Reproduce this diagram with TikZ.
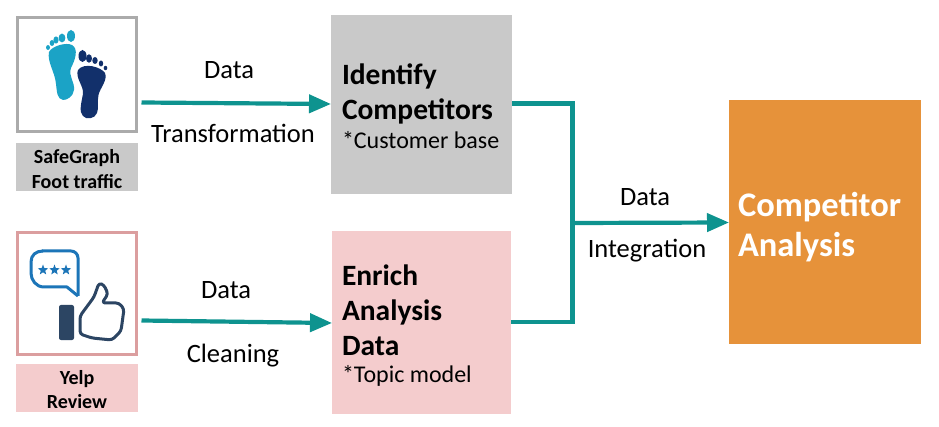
\documentclass[tikz,border=0pt]{standalone}
\usepackage{fontspec}
\setmainfont{Carlito}
\usetikzlibrary{arrows.meta,shapes.geometric}
\definecolor{teal1}{HTML}{0E938F}
\definecolor{grayfill}{HTML}{C9C9C9}
\definecolor{grayline}{HTML}{ABABAB}
\definecolor{pinkfill}{HTML}{F4CCCD}
\definecolor{pinkline}{HTML}{DB9E9F}
\definecolor{orange1}{HTML}{E6923A}
\definecolor{footlight}{HTML}{1BA3C6}
\definecolor{footdark}{HTML}{12306B}
\definecolor{bubble}{HTML}{1C75B8}
\definecolor{thumb}{HTML}{2C4563}
\tikzset{
  every node/.style={inner sep=0pt,outer sep=0pt},
  iconbox/.style={draw=#1,line width=3pt,fill=white,anchor=north west,minimum width=119pt,minimum height=114pt},
  captionbox/.style={fill=#1,anchor=north west,minimum width=122pt,minimum height=48pt},
  captiontext/.style={align=center,font=\fontsize{20}{24.5}\selectfont\bfseries},
  flow/.style={teal1,line width=4.2pt},
  flowarrow/.style={flow,-{Triangle[length=22pt,width=18pt]}},
  lbl/.style={font=\fontsize{26.5}{28}\selectfont},
  titletext/.style={anchor=west,align=left,font=\fontsize{29.5}{35}\selectfont\bfseries},
  notetext/.style={anchor=west,font=\fontsize{24}{26}\selectfont},
}
\begin{document}
\begin{tikzpicture}[x=1pt,y=-1pt]
\useasboundingbox (0,0) rectangle (939,427);
% boxes
\node[iconbox=grayline] (safe) at (17.5,17.5) {};
\node[captionbox=grayfill] (safecap) at (16,143) {};
\node[captiontext] (safeT) at (77,169) {SafeGraph\\Foot traffic};
\node[draw=pinkline,line width=3pt,fill=white,anchor=north west,minimum width=119pt,minimum height=121pt] (yelp) at (17.5,233) {};
\node[captionbox=pinkfill] (yelpcap) at (16,364) {};
\node[captiontext] (yelpT) at (77,389.5) {Yelp\\Review};
\node[fill=grayfill,anchor=north west,minimum width=181pt,minimum height=179pt] (identify) at (331,15) {};
\node[fill=pinkfill,anchor=north west,minimum width=179pt,minimum height=183pt] (enrich) at (332,231) {};
\node[fill=orange1,anchor=north west,minimum width=192pt,minimum height=244pt] (comp) at (729,100) {};
% box texts
\node[titletext] (identifyT) at (342,94) {Identify\\Competitors};
\node[notetext] (identifyN) at (342,140.5) {*Customer base};
\node[titletext] (enrichT) at (342,310) {Enrich\\Analysis\\Data};
\node[notetext] (enrichN) at (342,376) {*Topic model};
\node[anchor=west,align=left,text=white,font=\fontsize{34.5}{40}\selectfont\bfseries] (compT) at (738,227) {Competitor\\Analysis};
% edge labels
\node[lbl] (l1) at (229,70.5) {Data};
\node[lbl] (l2) at (233,133) {Transformation};
\node[lbl] (l3) at (226,290.5) {Data};
\node[lbl] (l4) at (233,356) {Cleaning};
\node[lbl] (l5) at (645,197.5) {Data};
\node[lbl] (l6) at (647,251) {Integration};
% connectors
\coordinate (j1) at (572.5,103.5);
\coordinate (j2) at (572.5,322);
\coordinate (j3) at (572.5,223);
\draw[flowarrow] ([xshift=5pt,yshift=-28pt]safe.east) -- (identify.west |- 0,104);
\draw[flowarrow] ([xshift=5pt,yshift=-27pt]yelp.east) -- (enrich.west |- 0,323);
\draw[flow,line cap=butt,line join=miter] (identify.east |- j1) -- (j1) -- (j2) -- (enrich.east |- j2);
\draw[flowarrow] (j3) -- (comp.west |- 0,222.5);
% foot icons
\fill[footlight] (49,52) .. controls (52,46) and (66,42) .. (72,45) .. controls (79,49) and (75,60) .. (71,68)
  .. controls (68,76) and (75,82) .. (74,90) .. controls (73,97) and (67,100) .. (63,100)
  .. controls (57,99) and (57,92) .. (56,84) .. controls (55,72) and (47,62) .. (49,52) -- cycle;
\foreach \x/\y/\a/\b in {71/36/4/6,62/38/3.4/4.4,56/40/2.6/3.6,52/43/2.3/3,48/47.5/2/2.4}
  \fill[footlight] (\x,\y) ellipse [x radius=\a pt,y radius=\b pt];
\fill[footdark] (78,70) .. controls (84,62) and (101,67) .. (105,73) .. controls (108,80) and (100,88) .. (98.5,95)
  .. controls (97,102) and (99,108) .. (97,113) .. controls (95,119) and (86,120) .. (83,116)
  .. controls (79,112) and (81,104) .. (83,94) .. controls (84,86) and (75,78) .. (78,70) -- cycle;
\foreach \x/\y/\a/\b in {82.5/56/4/6,89/58.5/3/4.2,95/60.5/2.7/3.5,101/63.5/2.2/3,105.5/68/1.8/2.2}
  \fill[footdark] (\x,\y) ellipse [x radius=\a pt,y radius=\b pt];
% review icon
\draw[bubble,line width=3pt,line join=round,rounded corners=7pt] (42,251) -- (78,251) -- (78,296);
\draw[bubble,line width=3pt,line join=round] (78,296) -- (67,287) -- (44,287) .. controls (36,287) and (31,280) .. (31,273) -- (31,262) .. controls (31,255) and (36,251) .. (43,251);
\node[star,star points=5,star point ratio=2.4,fill=bubble,minimum size=11pt] (s1) at (43,270) {};
\node[star,star points=5,star point ratio=2.4,fill=bubble,minimum size=11pt] (s2) at (54.5,270) {};
\node[star,star points=5,star point ratio=2.4,fill=bubble,minimum size=11pt] (s3) at (66,270) {};
\fill[thumb,rounded corners=2pt] (59,305) rectangle (74,340);
\draw[thumb,line width=3pt,line join=round,rounded corners=3pt] (80,334) -- (80,316) -- (94,297) -- (99,283) -- (104,285) -- (108,294) -- (102,303) -- (119,303) -- (124,309) -- (121,331) -- (112,340) -- (92,338) -- cycle;
\end{tikzpicture}
\end{document}
